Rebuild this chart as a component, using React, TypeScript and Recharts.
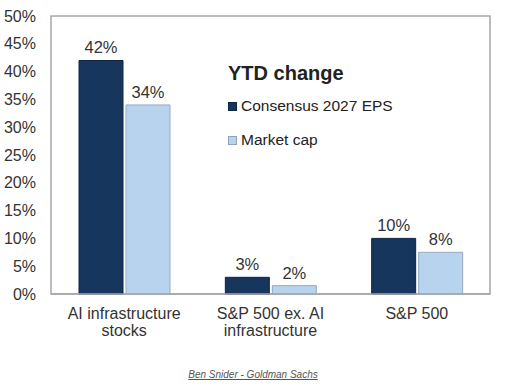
import { BarChart, Bar, XAxis, YAxis, ReferenceArea, LabelList, Legend } from 'recharts';

const categories = ['AI infrastructure\nstocks', 'S&P 500 ex. AI\ninfrastructure', 'S&P 500'];
const epsChange = [42, 3, 10];
const marketCapChange = [34, 1.5, 7.5];
const yTicks = [0, 5, 10, 15, 20, 25, 30, 35, 40, 45, 50];

const FONT = '"Liberation Sans", Arial, sans-serif';
const DARK = '#17365D';
const LIGHT = '#B8D3EE';

const data = categories.map((name, i) => ({
  name,
  eps: epsChange[i],
  mcap: marketCapChange[i],
}));

const pct = (v: number) => `${Math.round(v)}%`;

function CategoryTick({ x, y, payload }: any) {
  const lines = String(payload.value).split('\n');
  return (
    <text x={x} y={y} textAnchor="middle" fill="#333" fontSize={16} fontFamily={FONT}>
      {lines.map((line, i) => (
        <tspan key={i} x={x} dy={i === 0 ? 17 : 17}>
          {line}
        </tspan>
      ))}
    </text>
  );
}

function LegendBox({ payload }: any) {
  return (
    <div style={{ fontFamily: FONT, color: '#222', textAlign: 'left' }}>
      <div style={{ fontSize: 20, fontWeight: 'bold', marginBottom: 13, lineHeight: '22px' }}>YTD change</div>
      {(payload || []).map((item: any) => (
        <div
          key={item.value}
          style={{ display: 'flex', alignItems: 'center', fontSize: 15.5, height: 18, marginBottom: 16 }}
        >
          <span
            style={{
              display: 'inline-block',
              width: 7,
              height: 7,
              background: item.color,
              border: `1px solid ${item.color === LIGHT ? '#8fa3ba' : '#0f2540'}`,
              marginRight: 4,
            }}
          />
          {item.value}
        </div>
      ))}
    </div>
  );
}

export default function App() {
  return (
    <div style={{ position: 'absolute', left: 0, top: 0, width: 510, height: 387, background: '#fff' }}>
      <BarChart
        width={510}
        height={387}
        data={data}
        margin={{ top: 16, right: 20, left: 0, bottom: 33 }}
        barSize={44}
        barGap={3}
      >
        <ReferenceArea y1={0} y2={50} fill="none" stroke="#a6a6a6" strokeWidth={1.5} ifOverflow="visible" />
        <XAxis
          dataKey="name"
          interval={0}
          tickLine={false}
          axisLine={{ stroke: '#a6a6a6', strokeWidth: 1.5 }}
          tick={<CategoryTick />}
          height={60}
        />
        <YAxis
          width={51}
          domain={[0, 50]}
          ticks={yTicks}
          tickFormatter={(v: number) => `${v}%`}
          axisLine={false}
          tickLine={false}
          tick={{ fill: '#333', fontSize: 16, fontFamily: FONT, dx: -7 }}
        />
        <Legend
          verticalAlign="middle"
          align="center"
          layout="horizontal"
          content={<LegendBox />}
          wrapperStyle={{ position: 'absolute', left: 228, top: 62, width: 240 }}
        />
        <Bar dataKey="eps" name="Consensus 2027 EPS" fill={DARK} stroke="#0f2540" isAnimationActive={false}>
          <LabelList dataKey="eps" position="top" offset={7} formatter={pct} fill="#333" fontSize={16.5} fontFamily={FONT} />
        </Bar>
        <Bar dataKey="mcap" name="Market cap" fill={LIGHT} stroke="#96a9bf" isAnimationActive={false}>
          <LabelList dataKey="mcap" position="top" offset={7} formatter={pct} fill="#333" fontSize={16.5} fontFamily={FONT} />
        </Bar>
      </BarChart>
      <div
        style={{
          position: 'absolute',
          top: 369,
          left: 0,
          width: 506,
          textAlign: 'center',
          fontFamily: FONT,
          fontSize: 10,
          fontStyle: 'italic',
          textDecoration: 'underline',
          color: '#555',
        }}
      >
        Ben Snider - Goldman Sachs
      </div>
    </div>
  );
}
